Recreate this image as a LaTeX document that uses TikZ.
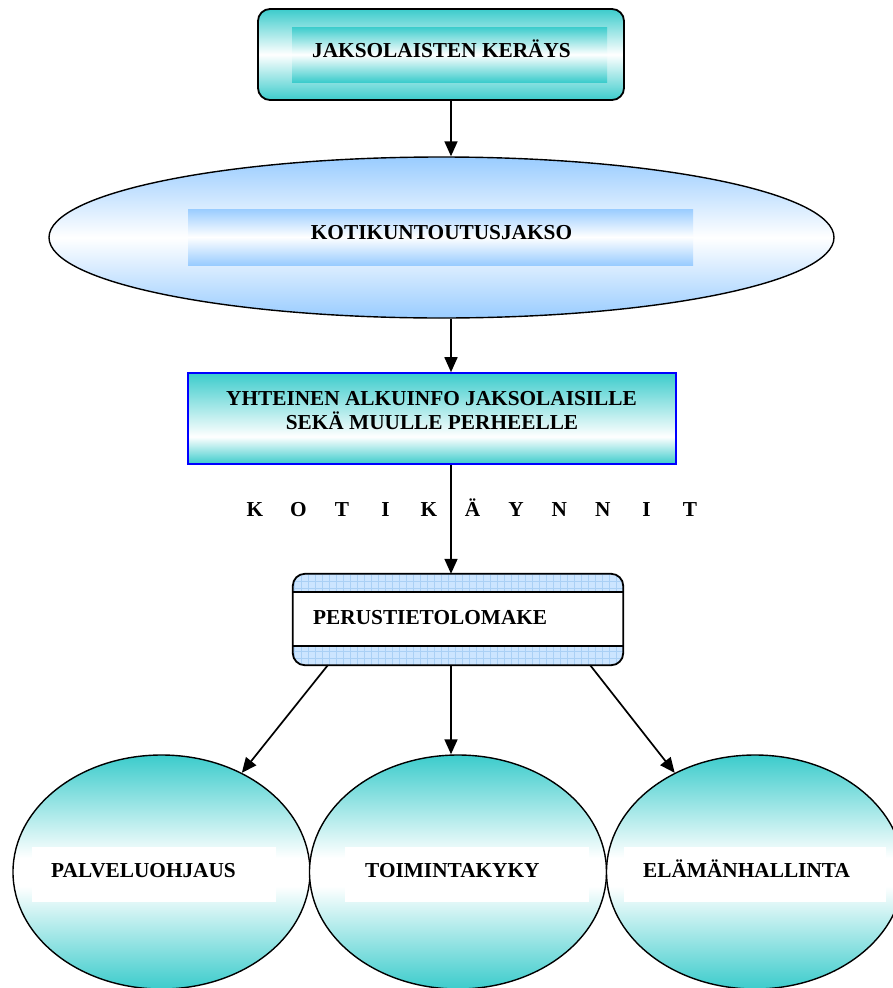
\documentclass[tikz,border=0pt]{standalone}
\usepackage{fontspec}
\setmainfont{Liberation Serif}
\usetikzlibrary{shapes.geometric,arrows.meta,calc}
\definecolor{cyanc}{RGB}{60,204,204}
\definecolor{lblue}{RGB}{153,204,255}
\definecolor{gridfill}{RGB}{204,229,255}
\definecolor{gridln}{RGB}{170,208,245}
\pgfdeclareverticalshading{yhtsh}{100bp}{color(0bp)=(cyanc); color(25bp)=(cyanc); color(40bp)=(white); color(75bp)=(cyanc); color(100bp)=(cyanc)}
\pgfdeclareverticalshading{botsh}{100bp}{color(0bp)=(cyanc); color(25bp)=(cyanc); color(47bp)=(white); color(53bp)=(white); color(75bp)=(cyanc); color(100bp)=(cyanc)}
\tikzset{
  lbl/.style={font=\bfseries\fontsize{21.3}{25}\selectfont, inner sep=0pt, text=black},
  arr/.style={-{Triangle[length=15pt,width=13pt]}, line width=1.7pt},
  cyanshade/.style={top color=cyanc, bottom color=cyanc, middle color=white},
  blueshade/.style={top color=lblue, bottom color=lblue, middle color=white},
  botell/.style={ellipse, draw, line width=1.4pt, inner sep=0pt, minimum width=297pt, minimum height=234pt, shade, shading=botsh},
  whitebox/.style={rectangle, fill=white, inner sep=0pt, minimum height=55pt}
}
\begin{document}
\begin{tikzpicture}[x=1pt,y=-1pt]
\useasboundingbox (0,0) rectangle (893,988);
\clip (0,0) rectangle (893,988);
\coordinate (axis) at (451,0);

% top box
\node[draw, line width=1.8pt, rounded corners=12pt, inner sep=0pt, minimum width=366pt, minimum height=91pt, cyanshade] (jak) at (441,54.5) {};
\node[rectangle, inner sep=0pt, minimum width=315pt, minimum height=55pt, cyanshade] (jakin) at (449.5,54.5) {};
\node[lbl, anchor=base] (jakt) at (441.5,57) {JAKSOLAISTEN KERÄYS};

% big ellipse
\node[ellipse, draw, line width=1.4pt, inner sep=0pt, minimum width=785pt, minimum height=161pt, blueshade] (kot) at (441.5,237.5) {};
\node[rectangle, inner sep=0pt, minimum width=505pt, minimum height=56pt, blueshade] (kotin) at (440.5,237) {};
\node[lbl, anchor=base] (kott) at (441.5,239) {KOTIKUNTOUTUSJAKSO};

% info box
\node[rectangle, draw=blue, line width=1.6pt, inner sep=0pt, minimum width=488pt, minimum height=91pt, shade, shading=yhtsh] (yht) at (432,418.5) {};
\node[lbl, anchor=base] (yht1) at (431.5,405) {YHTEINEN ALKUINFO JAKSOLAISILLE};
\node[lbl, anchor=base] (yht2) at (432,429) {SEKÄ MUULLE PERHEELLE};

% kotikaynnit
\node[lbl, anchor=base west] (kaynnit) at (233,516) {\makebox[43.5pt]{K}\makebox[43.5pt]{O}\makebox[43.5pt]{T}\makebox[43.5pt]{I}\makebox[43.5pt]{K}\makebox[43.5pt]{Ä}\makebox[43.5pt]{Y}\makebox[43.5pt]{N}\makebox[43.5pt]{N}\makebox[43.5pt]{I}\makebox[43.5pt]{T}};

% perustietolomake box
\node[rectangle, rounded corners=12pt, fill=white, inner sep=0pt, minimum width=330pt, minimum height=91pt] (per) at (458,619.5) {};
\begin{scope}
  \clip[rounded corners=12pt] (per.north west) rectangle (per.south east);
  \fill[gridfill] (per.north west) rectangle ($(per.north east)+(0,18)$);
  \fill[gridfill] ($(per.south west)+(0,-19)$) rectangle (per.south east);
  \draw[gridln, line width=0.5pt, step=7pt] (per.north west) grid ($(per.north east)+(0,18)$);
  \draw[gridln, line width=0.5pt, step=7pt] ($(per.south west)+(0,-19)$) grid (per.south east);
\end{scope}
\draw[line width=1.5pt] ($(per.north west)+(0,18)$) -- ($(per.north east)+(0,18)$);
\draw[line width=1.5pt] ($(per.south west)+(0,-19)$) -- ($(per.south east)+(0,-19)$);
\draw[line width=1.8pt, rounded corners=12pt] (per.north west) rectangle (per.south east);
\node[lbl, anchor=base west] (pert) at (313,624) {PERUSTIETOLOMAKE};

% bottom ellipses
\node[botell] (pal) at (161.5,872) {};
\node[botell] (toi) at (458,872) {};
\node[botell] (ela) at (755,872) {};
\node[whitebox, minimum width=244pt] (palin) at (154,874.5) {};
\node[whitebox, minimum width=244pt] (toiin) at (467,874.5) {};
\node[whitebox, minimum width=262pt] (elain) at (755,874.5) {};
\node[lbl, anchor=base west] (palt) at (51,877) {PALVELUOHJAUS};
\node[lbl, anchor=base west] (toit) at (365,877) {TOIMINTAKYKY};
\node[lbl, anchor=base west] (elat) at (643,877) {ELÄMÄNHALLINTA};

% connectors
\draw[arr] (jak.south -| axis) -- (kot.north -| axis);
\draw[arr] (kot.south -| axis) -- (yht.north -| axis);
\draw[arr] (yht.south -| axis) -- (per.north -| axis);
\draw[arr] ($(per.south west)+(35,0)$) -- (pal.51);
\draw[arr] (per.south -| axis) -- (toi.north -| axis);
\draw[arr] ($(per.south east)+(-33,0)$) -- (ela.129);
\end{tikzpicture}
\end{document}
